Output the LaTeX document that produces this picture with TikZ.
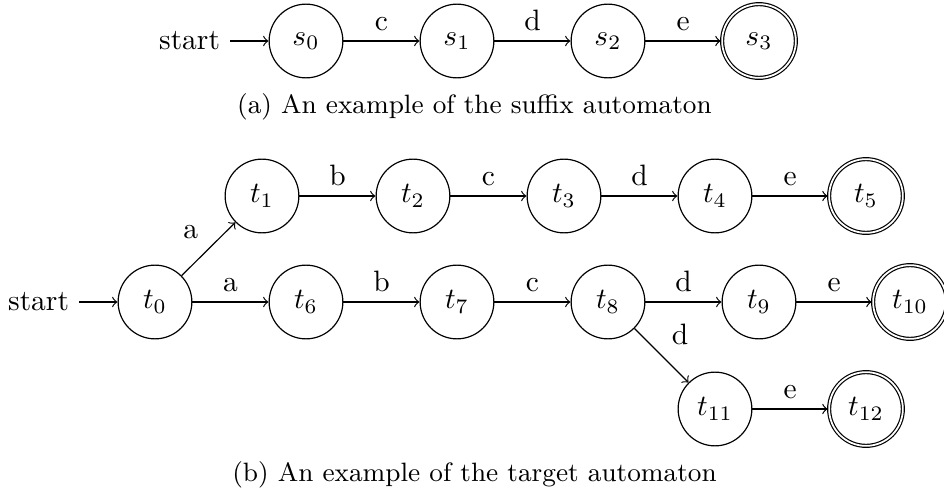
\documentclass[tikz,border=0pt]{standalone}
\usetikzlibrary{automata}
\begin{document}
\begin{tikzpicture}[x=0.33911pt,y=-0.33911pt,auto,
  lbl/.style={auto},
  caption/.style={font=\small}]
\useasboundingbox (0,0) rectangle (944,497);
% (a) suffix automaton
\node[state,initial,initial text=start] (s0) at (306,41) {$s_0$};
\node[state] (s1) at (457,41) {$s_1$};
\node[state] (s2) at (608,41) {$s_2$};
\node[state,accepting] (s3) at (759,41) {$s_3$};
\path[->] (s0) edge node[lbl] {c} (s1)
          (s1) edge node[lbl] {d} (s2)
          (s2) edge node[lbl] {e} (s3);
\node[caption] (capa) at (474.5,107) {(a) An example of the suffix automaton};
% (b) target automaton
\node[state,initial,initial text=start] (t0) at (155,302) {$t_0$};
\node[state] (t1) at (262,196) {$t_1$};
\node[state] (t2) at (413,196) {$t_2$};
\node[state] (t3) at (564,196) {$t_3$};
\node[state] (t4) at (715,196) {$t_4$};
\node[state,accepting] (t5) at (866,196) {$t_5$};
\node[state] (t6) at (306,302) {$t_6$};
\node[state] (t7) at (457,302) {$t_7$};
\node[state] (t8) at (608,302) {$t_8$};
\node[state] (t9) at (759,302) {$t_9$};
\node[state,accepting] (t10) at (910,302) {$t_{10}$};
\node[state] (t11) at (715,409) {$t_{11}$};
\node[state,accepting] (t12) at (866,409) {$t_{12}$};
\path[->] (t0) edge node[lbl] {a} (t1)
          (t1) edge node[lbl] {b} (t2)
          (t2) edge node[lbl] {c} (t3)
          (t3) edge node[lbl] {d} (t4)
          (t4) edge node[lbl] {e} (t5)
          (t0) edge node[lbl] {a} (t6)
          (t6) edge node[lbl] {b} (t7)
          (t7) edge node[lbl] {c} (t8)
          (t8) edge node[lbl] {d} (t9)
          (t9) edge node[lbl] {e} (t10)
          (t8) edge node[lbl] {d} (t11)
          (t11) edge node[lbl] {e} (t12);
\node[caption] (capb) at (474.5,475) {(b) An example of the target automaton};
\end{tikzpicture}
\end{document}
